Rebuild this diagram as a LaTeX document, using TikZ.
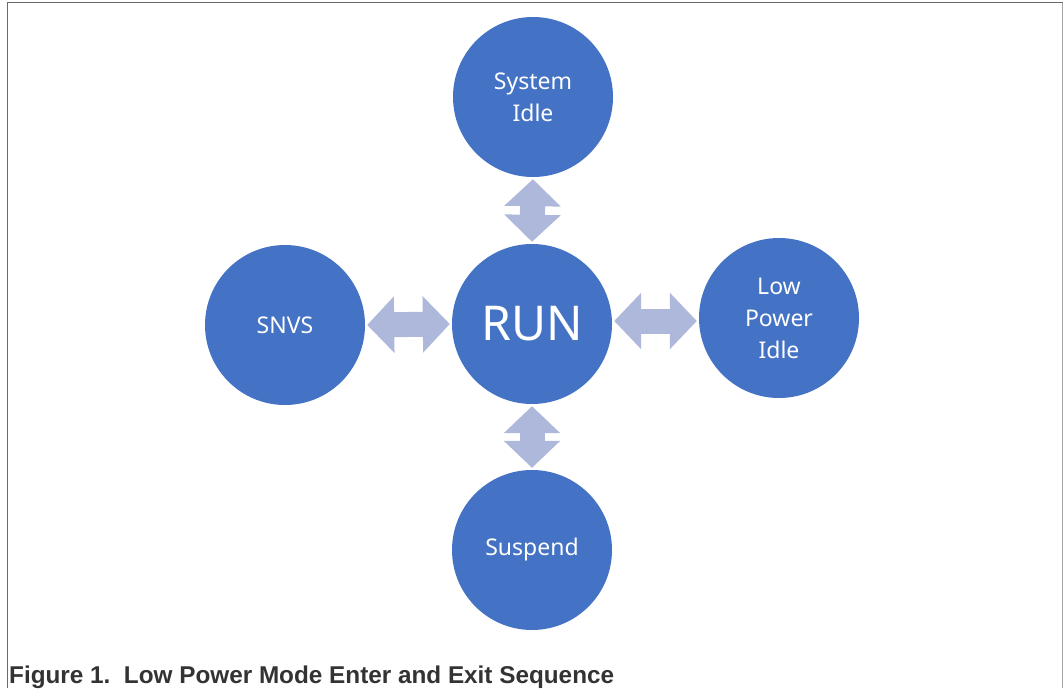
\documentclass[tikz,border=0pt]{standalone}
\usepackage{fontspec}
\setmainfont{Noto Sans}
\newfontfamily\capfont{Liberation Sans}
\usetikzlibrary{arrows.meta}
\definecolor{circblue}{HTML}{4472C4}
\definecolor{arrblue}{HTML}{AEB8DA}
\definecolor{framegray}{HTML}{6A6A6A}
\definecolor{capgray}{HTML}{333333}
\tikzset{
  state/.style={circle, fill=circblue, draw=none, minimum size=160pt, inner sep=0pt,
    text=white, align=center, font=\fontsize{23}{32}\selectfont},
  big/.style={arrblue, line width=25pt,
    {Triangle[width=55pt,length=27pt]}-{Triangle[width=55pt,length=27pt]},
    shorten <=2pt, shorten >=2pt}
}
\begin{document}
\begin{tikzpicture}[x=1pt,y=-1pt]
\useasboundingbox (0,0) rectangle (1064,688);
\draw[framegray, line width=1.2pt] (7.5,688) -- (7.5,2.5) -- (1062.5,2.5);
\draw[framegray!60, line width=1.2pt] (1062.5,2.5) -- (1062.5,688);
\node[state] (sys) at (533,97) {System\\Idle};
\node[state, font=\fontsize{48}{52}\selectfont] (run) at (532,324) {RUN};
\node[state] (snvs) at (285,325) {SNVS};
\node[state] (lpi) at (779,318) {Low\\Power\\Idle};
\node[state] (sus) at (532,550) {Suspend};
\draw[big] (snvs.east) -- (run.west);
\draw[big] ([yshift=3pt]run.east) -- ([yshift=-3pt]lpi.west);
\draw[big] (sys.south) -- (run.north);
\draw[big] (run.south) -- (sus.north);
\node[anchor=base west, inner sep=0pt, text=capgray, font=\capfont\bfseries\fontsize{24.3}{28}\selectfont] (cap) at (9,683) {Figure 1.\ \ Low Power Mode Enter and Exit Sequence};
\end{tikzpicture}
\end{document}
